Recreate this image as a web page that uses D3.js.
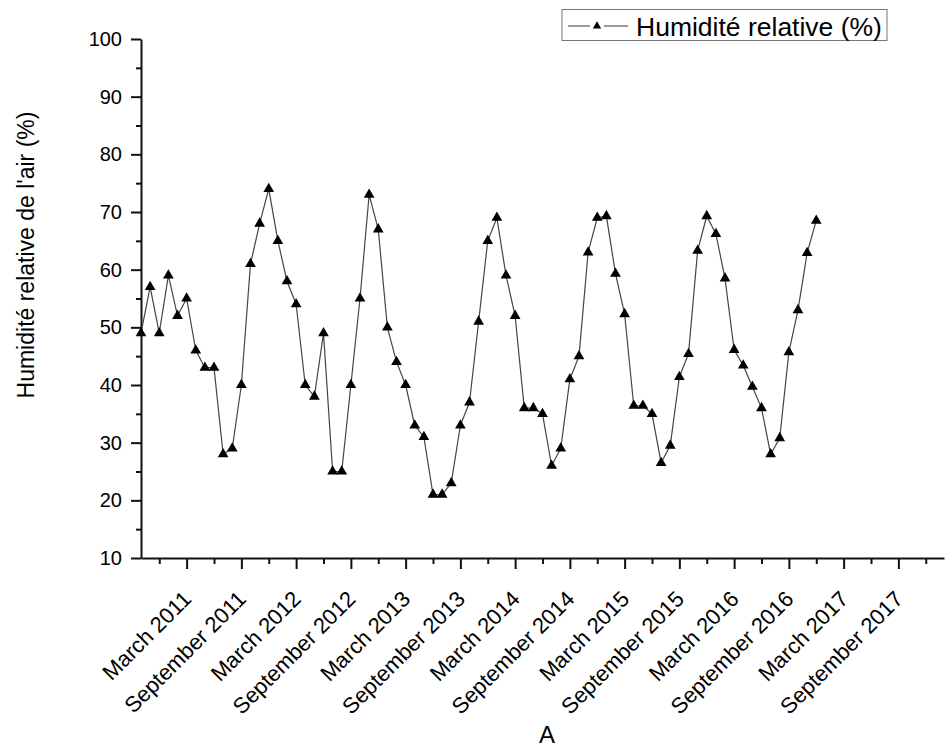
<!DOCTYPE html>
<html>
<head>
<meta charset="utf-8">
<script src="https://cdn.jsdelivr.net/npm/d3@7"></script>
<style>
  body { margin: 0; background: #fff; }
  svg { font-family: "Liberation Sans", Arial, sans-serif; }
</style>
</head>
<body>
<svg id="chart" width="945" height="749"></svg>
<script>
// monthly relative humidity, first point = October 2010
var startMonth = new Date(2010, 9, 1);
var humidity = [49, 57, 49, 59, 52, 55, 46, 43, 43, 28, 29, 40, 61,
                68, 74, 65, 58, 54, 40, 38, 49, 25, 25, 40, 55, 73,
                67, 50, 44, 40, 33, 31, 21, 21, 23, 33, 37, 51, 65,
                69, 59, 52, 36, 36, 35, 26, 29, 41, 45, 63, 69, 69.3,
                59.3, 52.3, 36.4, 36.4, 35, 26.5, 29.5, 41.4, 45.4, 63.3, 69.3,
                66.2, 58.5, 46.1, 43.4, 39.7, 36, 28, 30.8, 45.7, 53, 62.9, 68.5];
var months = d3.timeMonth.range(startMonth, d3.timeMonth.offset(startMonth, humidity.length));

var xTickLabels = ["March 2011", "September 2011", "March 2012", "September 2012",
                   "March 2013", "September 2013", "March 2014", "September 2014",
                   "March 2015", "September 2015", "March 2016", "September 2016",
                   "March 2017", "September 2017"];
var yTicks = [10, 20, 30, 40, 50, 60, 70, 80, 90, 100];
var yMinorTicks = [15, 25, 35, 45, 55, 65, 75, 85, 95];
var legendLabel = "Humidité relative (%)";
var yTitle = "Humidité relative de l'air (%)";
var xTitle = "A";

var parseLabel = d3.timeParse("%B %Y");
function monthIndex(date) {
    return d3.timeMonth.count(startMonth, date);
}
var majorIdx = xTickLabels.map(function(l) { return monthIndex(parseLabel(l)); });
var minorIdx = majorIdx.map(function(i) { return i - 3; });
minorIdx.push(majorIdx[majorIdx.length - 1] + 3);

var svg = d3.select("#chart");

var x = d3.scaleLinear()
    .domain([0, 88])
    .range([141, 944]);

var y = d3.scaleLinear()
    .domain([10, 100])
    .range([558, 39]);

// x axis
var xAxis = svg.append("g")
    .attr("transform", "translate(0," + y(10) + ")")
    .call(d3.axisBottom(x)
        .tickValues(majorIdx)
        .tickSize(11)
        .tickSizeOuter(0)
        .tickFormat(function(d, i) { return xTickLabels[i]; }));

xAxis.selectAll("text")
    .attr("font-size", 22)
    .attr("fill", "#000")
    .attr("text-anchor", "end")
    .attr("dy", "0.35em")
    .attr("transform", "translate(0,37) rotate(-45)")
    .attr("y", 0)
    .attr("x", 0);

svg.append("g")
    .attr("transform", "translate(0," + y(10) + ")")
    .call(d3.axisBottom(x)
        .tickValues(minorIdx)
        .tickSize(6)
        .tickSizeOuter(0)
        .tickFormat(""))
    .select(".domain").remove();

// y axis
var yAxis = svg.append("g")
    .attr("transform", "translate(" + x(0) + ",0)")
    .call(d3.axisLeft(y)
        .tickValues(yTicks)
        .tickSize(10)
        .tickPadding(9)
        .tickSizeOuter(0));

yAxis.selectAll("text")
    .attr("font-size", 20)
    .attr("fill", "#000");

svg.append("g")
    .attr("transform", "translate(" + x(0) + ",0)")
    .call(d3.axisLeft(y)
        .tickValues(yMinorTicks)
        .tickSize(5)
        .tickFormat(""))
    .select(".domain").remove();

svg.selectAll(".domain, .tick line")
    .attr("stroke", "#111")
    .attr("stroke-width", 2);

// series
var line = d3.line()
    .x(function(d, i) { return x(i); })
    .y(function(d) { return y(d); });

svg.append("path")
    .datum(humidity)
    .attr("fill", "none")
    .attr("stroke", "#444")
    .attr("stroke-width", 1.2)
    .attr("d", line);

var tri = d3.symbol().type(d3.symbolTriangle).size(50);

svg.append("g")
    .selectAll("path")
    .data(humidity)
    .enter().append("path")
    .attr("d", tri)
    .attr("fill", "#000")
    .attr("transform", function(d, i) { return "translate(" + x(i) + "," + y(d) + ")"; });

// titles
svg.append("text")
    .attr("transform", "translate(34,255) rotate(-90)")
    .attr("text-anchor", "middle")
    .attr("font-size", 23)
    .text(yTitle);

svg.append("text")
    .attr("x", 547)
    .attr("y", 743)
    .attr("text-anchor", "middle")
    .attr("font-size", 24)
    .text(xTitle);

// legend
var legend = svg.append("g");
legend.append("rect")
    .attr("x", 562)
    .attr("y", 9.5)
    .attr("width", 325)
    .attr("height", 31)
    .attr("fill", "#fff")
    .attr("stroke", "#777")
    .attr("stroke-width", 1);
legend.append("line")
    .attr("x1", 568).attr("x2", 590)
    .attr("y1", 26).attr("y2", 26)
    .attr("stroke", "#555")
    .attr("stroke-width", 1.2);
legend.append("line")
    .attr("x1", 604).attr("x2", 628)
    .attr("y1", 26).attr("y2", 26)
    .attr("stroke", "#555")
    .attr("stroke-width", 1.2);
legend.append("path")
    .attr("d", d3.symbol().type(d3.symbolTriangle).size(30))
    .attr("transform", "translate(597,26)")
    .attr("fill", "#000");
legend.append("text")
    .attr("x", 636)
    .attr("y", 36)
    .attr("font-size", 26.5)
    .text(legendLabel);
</script>
</body>
</html>
